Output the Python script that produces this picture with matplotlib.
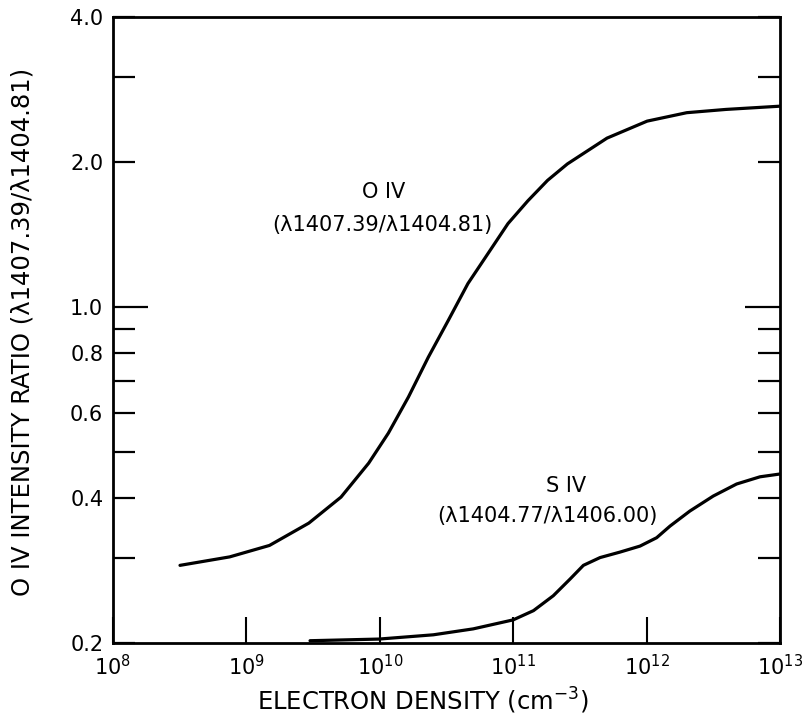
import matplotlib
matplotlib.use("Agg")
import matplotlib.pyplot as plt
from matplotlib.ticker import FixedLocator, NullLocator

# ---- data ----
oiv_density = [3.18e8, 7.5e8, 1.49e9, 2.94e9, 5.12e9, 8.26e9, 1.16e10, 1.64e10,
               2.31e10, 3.26e10, 4.58e10, 6.47e10, 9.14e10, 1.29e11, 1.81e11,
               2.55e11, 5.05e11, 1.01e12, 2.0e12, 3.94e12, 1.0e13]
oiv_ratio = [0.290, 0.302, 0.319, 0.355, 0.402, 0.473, 0.546, 0.649,
             0.785, 0.936, 1.117, 1.289, 1.488, 1.66, 1.83,
             1.98, 2.24, 2.43, 2.53, 2.57, 2.61]

siv_density = [3.0e9, 9.86e9, 2.52e10, 5.02e10, 1.0e11, 1.42e11, 2.0e11, 2.67e11,
               3.36e11, 4.48e11, 6.32e11, 8.93e11, 1.19e12, 1.50e12, 2.11e12,
               3.16e12, 4.73e12, 7.08e12, 1.0e13]
siv_ratio = [0.2022, 0.2038, 0.208, 0.214, 0.2234, 0.2335, 0.2508, 0.2716,
             0.290, 0.301, 0.309, 0.318, 0.331, 0.350, 0.376,
             0.404, 0.428, 0.443, 0.449]

x_ticks = [1e8, 1e9, 1e10, 1e11, 1e12, 1e13]
x_ticklabels = [r"$10^{8}$", r"$10^{9}$", r"$10^{10}$", r"$10^{11}$", r"$10^{12}$", r"$10^{13}$"]
y_ticks = [0.2, 0.3, 0.4, 0.5, 0.6, 0.7, 0.8, 0.9, 1.0, 2.0, 3.0, 4.0]
y_ticklabels = ["0.2", "", "0.4", "", "0.6", "", "0.8", "", "1.0", "2.0", "", "4.0"]

xlabel = "ELECTRON DENSITY (cm$^{-3}$)"
ylabel = "O IV INTENSITY RATIO (λ1407.39/λ1404.81)"
oiv_label = ["O IV", "(λ1407.39/λ1404.81)"]
siv_label = ["S IV", "(λ1404.77/λ1406.00)"]

# ---- figure ----
plt.rcParams['font.family'] = ['DejaVu Sans']
plt.rcParams['mathtext.fontset'] = 'dejavusans'
fig = plt.figure(figsize=(8.07, 7.19), dpi=100)
ax = fig.add_axes([0.140, 0.1057, 0.8265, 0.8707])

ax.plot(oiv_density, oiv_ratio, color='black', lw=2.3, solid_capstyle='round', solid_joinstyle='round')
ax.plot(siv_density, siv_ratio, color='black', lw=2.3, solid_capstyle='round', solid_joinstyle='round')

ax.set_xscale('log')
ax.set_yscale('log')
ax.set_xlim(1e8, 1e13)
ax.set_ylim(0.2, 4.0)

ax.xaxis.set_major_locator(FixedLocator(x_ticks))
ax.xaxis.set_minor_locator(NullLocator())
ax.set_xticklabels(x_ticklabels)
ax.yaxis.set_major_locator(FixedLocator(y_ticks))
ax.yaxis.set_minor_locator(NullLocator())
ax.set_yticklabels(y_ticklabels)

ax.tick_params(axis='x', direction='in', length=19, width=1.5, labelsize=15, pad=8, top=False)
ax.tick_params(axis='y', direction='in', length=16, width=1.6, labelsize=15, pad=7,
               left=True, right=True)
# longer tick at 1.0 on both sides
for t in ax.yaxis.get_major_ticks():
    if abs(t.get_loc() - 1.0) < 1e-9:
        t.tick1line.set_markersize(25)
        t.tick2line.set_markersize(25)

for s in ax.spines.values():
    s.set_linewidth(2.0)

ax.set_xlabel(xlabel, fontsize=17.5)
ax.xaxis.set_label_coords(0.465, -0.068)
ax.set_ylabel(ylabel, fontsize=17.5)
ax.yaxis.set_label_coords(-0.118, 0.497)

ax.text(1.06e10, 1.73, oiv_label[0], fontsize=15, ha='center', va='center')
ax.text(1.04e10, 1.48, oiv_label[1], fontsize=15, ha='center', va='center')
ax.text(2.49e11, 0.424, siv_label[0], fontsize=15, ha='center', va='center')
ax.text(1.82e11, 0.367, siv_label[1], fontsize=15, ha='center', va='center')

fig.savefig("out.png", dpi=100)
